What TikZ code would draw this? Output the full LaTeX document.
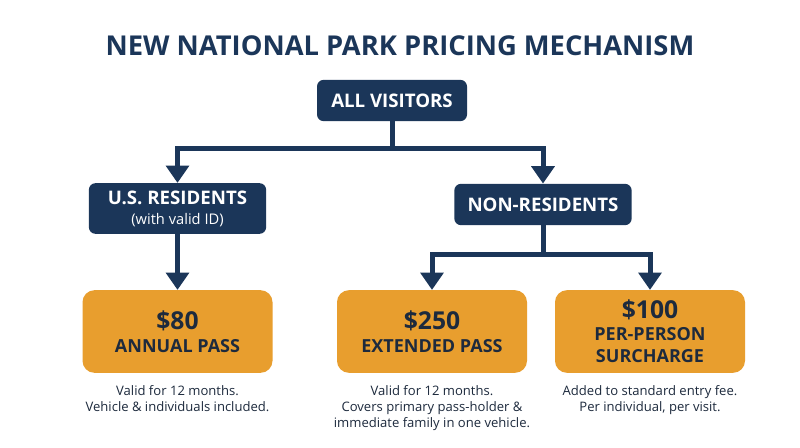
\documentclass[tikz,border=0pt]{standalone}
\usepackage{fontspec}
\setmainfont{Open Sans}
\usetikzlibrary{arrows.meta}

\definecolor{navy}{HTML}{1B3659}
\definecolor{gold}{HTML}{E89E2E}
\definecolor{ink}{HTML}{1D2A3D}

\newcommand{\headfont}{\fontsize{14}{15}\selectfont\bfseries}
\newcommand{\pricefont}{\fontsize{18.5}{20}\selectfont}
\newcommand{\passfont}{\fontsize{13.5}{16.5}\selectfont\bfseries}

\tikzset{
  navybox/.style={fill=navy, rounded corners=5pt, text=white, align=center, inner sep=0pt},
  pricebox/.style={fill=gold, rounded corners=9pt, text=ink, align=center, inner sep=0pt,
    minimum width=142.5pt, minimum height=62pt, font=\passfont},
  note/.style={align=center, text=ink, font=\fontsize{9.8}{12}\selectfont},
  link/.style={line width=3.75pt, draw=navy},
  flow/.style={link, -{Triangle[width=17pt,length=13pt]}},
}

\begin{document}
\begin{tikzpicture}[x=0.75pt, y=-0.75pt]
\useasboundingbox[fill=white] (0,0) rectangle (800,447);

% title
\node[text=navy, font=\fontsize{20.5}{22}\selectfont\bfseries] (title) at (400,46) {NEW NATIONAL PARK PRICING MECHANISM};

% visitor groups
\node[navybox, minimum width=112.5pt, minimum height=31pt, font=\headfont] (all) at (392,100.5) {ALL VISITORS};
\node[navybox, minimum width=133pt, minimum height=38pt, font=\fontsize{11}{14}\selectfont] (res) at (177.5,208.5)
  {{\headfont U.S. RESIDENTS}\\[1pt] (with valid ID)};
\node[navybox, minimum width=133pt, minimum height=31pt, font=\headfont] (non) at (543,204.5) {NON-RESIDENTS};

% passes
\node[pricebox] (annual) at (177.5,331.5) {{\pricefont \$80}\\[0.5pt] ANNUAL PASS};
\node[pricebox] (extended) at (432,331.5) {{\pricefont \$250}\\[0.5pt] EXTENDED PASS};
\node[pricebox] (surcharge) at (650,331.5) {{\pricefont \$100}\\ PER-PERSON\\ SURCHARGE};

% notes under the passes
\node[note, anchor=north] (annualnote) at (177.5,381) {Valid for 12 months.\\Vehicle \& individuals included.};
\node[note, anchor=north] (extendednote) at (432,381) {Valid for 12 months.\\Covers primary pass-holder \&\\immediate family in one vehicle.};
\node[note, anchor=north] (surchargenote) at (650,381) {Added to standard entry fee.\\Per individual, per visit.};

% connectors
\draw[flow] (all.south) -- ++(0,27) -| (res.north);
\draw[flow] (all.south) -- ++(0,27) -| (non.north);
\draw[flow] (res.south) -- (annual.north);
\draw[flow] (non.south) -- ++(0,29) -| (extended.north);
\draw[flow] (non.south) -- ++(0,29) -| (surcharge.north);
\end{tikzpicture}
\end{document}
